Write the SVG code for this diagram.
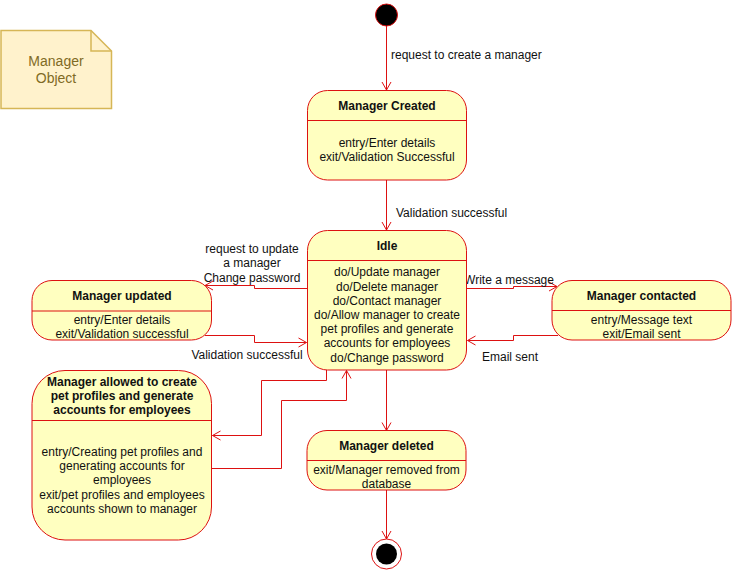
<svg xmlns="http://www.w3.org/2000/svg" width="732" height="571" viewBox="0 0 732 571">
<style>
.st{fill:#ffffc0;stroke:#dd1111;stroke-width:1}
.dv{stroke:#dd1111;stroke-width:1;fill:none}
.e{fill:none;stroke:#dd1111;stroke-width:1;marker-end:url(#open)}
text{font-family:"Liberation Sans",Arial,Helvetica,sans-serif;font-size:12px;fill:#111}
.c{text-anchor:middle}
.b{font-weight:bold}
.note{fill:#fff2cc;stroke:#d6b656;stroke-width:1.5}
.nt{font-size:14px;fill:#7f6b25;text-anchor:middle}
</style>
<defs>
<marker id="open" viewBox="-10 -6 12 12" refX="0" refY="0" markerWidth="12" markerHeight="12" orient="auto" markerUnits="userSpaceOnUse">
<path d="M-8,-4.5 L0,0 L-8,4.5" fill="none" stroke="#dd1111" stroke-width="1"/>
</marker>
</defs>
<rect width="732" height="571" fill="#ffffff"/>

<g id="note">
<path class="note" d="M1,30.5 H91 L111.5,51 V108.5 H1 Z"/>
<path d="M91,30.5 V51 H111.5" fill="none" stroke="#d6b656" stroke-width="1.5"/>
<text class="nt" x="56" y="66">Manager</text>
<text class="nt" x="56" y="83">Object</text>
</g>

<g id="connectors">
<path class="e" d="M386.5,26 V90"/>
<text x="391" y="59">request to create a manager</text>
<path class="e" d="M386.5,180 V230"/>
<text x="396" y="217">Validation successful</text>
<path class="e" d="M307,288.5 H254.5 V285.5 H205"/>
<text class="c" x="252" y="253">request to update</text>
<text class="c" x="252" y="267">a manager</text>
<text class="c" x="252" y="281.5">Change password</text>
<path class="e" d="M205,335.5 H254.5 V342.5 H306.5"/>
<text class="c" x="247" y="359">Validation successful</text>
<path class="e" d="M467,288.5 H513.5 V286.5 H557"/>
<text class="c" x="509" y="284">Write a message</text>
<path class="e" d="M558,335.5 H513.5 V340.5 H467.5"/>
<text class="c" x="510" y="361">Email sent</text>
<path class="e" d="M326.5,370 V380.5 H261.5 V435.5 H212.5"/>
<path class="e" d="M212,468.5 H281.5 V400.5 H346.5 V370.5"/>
<path class="e" d="M386.5,370 V430.5"/>
<path class="e" d="M386.5,490 V539"/>
</g>

<g id="initial">
<circle cx="386.5" cy="15" r="11" fill="#000" stroke="#dd1111" stroke-width="1"/>
</g>

<g id="manager-created">
<rect class="st" x="307.5" y="90.5" width="159" height="89.5" rx="20" ry="20"/>
<line class="dv" x1="307.5" y1="120.5" x2="466.5" y2="120.5"/>
<text class="c b" x="387" y="110">Manager Created</text>
<text class="c" x="387" y="147">entry/Enter details</text>
<text class="c" x="387" y="161">exit/Validation Successful</text>
</g>

<g id="idle">
<rect class="st" x="307.5" y="230.5" width="159" height="139.5" rx="20" ry="20"/>
<line class="dv" x1="307.5" y1="260.5" x2="466.5" y2="260.5"/>
<text class="c b" x="387" y="250">Idle</text>
<text class="c" x="387" y="276.3">do/Update manager</text>
<text class="c" x="387" y="290.5">do/Delete manager</text>
<text class="c" x="387" y="304.7">do/Contact manager</text>
<text class="c" x="387" y="318.9">do/Allow manager to create</text>
<text class="c" x="387" y="333.1">pet profiles and generate</text>
<text class="c" x="387" y="347.3">accounts for employees</text>
<text class="c" x="387" y="361.5">do/Change password</text>
</g>

<g id="manager-updated">
<rect class="st" x="32" y="280.5" width="179.5" height="59.5" rx="20" ry="20"/>
<line class="dv" x1="32" y1="311" x2="211.5" y2="311"/>
<text class="c b" x="122" y="300">Manager updated</text>
<text class="c" x="122" y="324">entry/Enter details</text>
<text class="c" x="122" y="338">exit/Validation successful</text>
</g>

<g id="manager-contacted">
<rect class="st" x="552" y="280.5" width="179" height="59.5" rx="20" ry="20"/>
<line class="dv" x1="552" y1="310.5" x2="731" y2="310.5"/>
<text class="c b" x="641.5" y="299.5">Manager contacted</text>
<text class="c" x="641.5" y="324">entry/Message text</text>
<text class="c" x="641.5" y="337.5">exit/Email sent</text>
</g>

<g id="manager-allowed">
<rect class="st" x="32" y="370.5" width="179.5" height="169.5" rx="33" ry="33"/>
<line class="dv" x1="32" y1="420.5" x2="211.5" y2="420.5"/>
<text class="c b" x="122" y="386">Manager allowed to create</text>
<text class="c b" x="122" y="400">pet profiles and generate</text>
<text class="c b" x="122" y="414">accounts for employees</text>
<text class="c" x="122" y="456">entry/Creating pet profiles and</text>
<text class="c" x="122" y="470">generating accounts for</text>
<text class="c" x="122" y="484">employees</text>
<text class="c" x="122" y="498.5">exit/pet profiles and employees</text>
<text class="c" x="122" y="512.5">accounts shown to manager</text>
</g>

<g id="manager-deleted">
<rect class="st" x="307" y="430.5" width="159" height="59.5" rx="20" ry="20"/>
<line class="dv" x1="307" y1="460.5" x2="466" y2="460.5"/>
<text class="c b" x="386.5" y="450">Manager deleted</text>
<text class="c" x="386.5" y="474">exit/Manager removed from</text>
<text class="c" x="386.5" y="488">database</text>
</g>

<g id="final">
<circle cx="386.5" cy="554" r="15" fill="#fff" stroke="#dd1111" stroke-width="1"/>
<circle cx="386.5" cy="554" r="10.5" fill="#000"/>
</g>
</svg>
